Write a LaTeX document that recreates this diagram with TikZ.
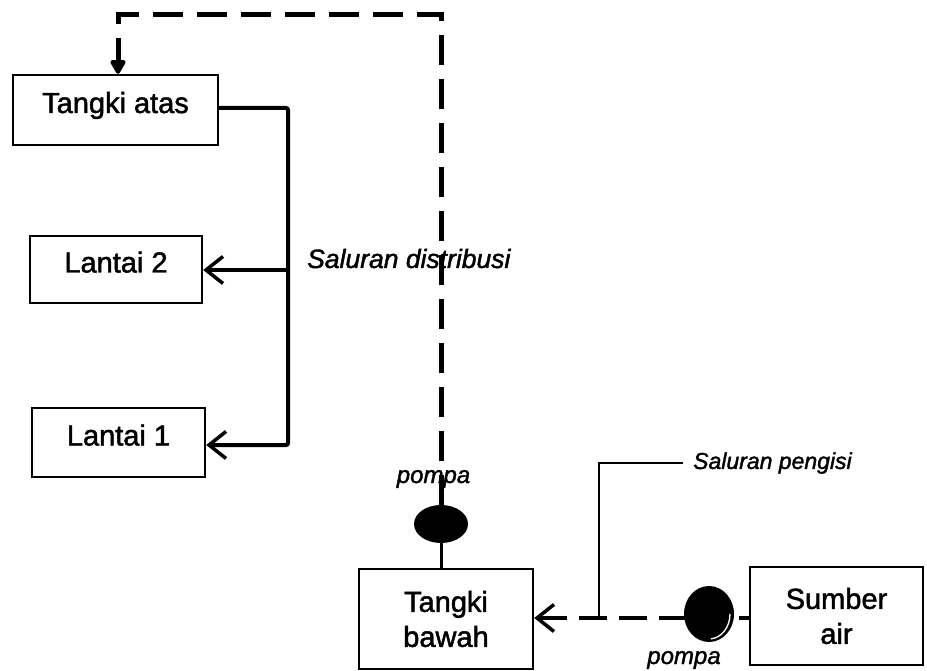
\documentclass[tikz,border=0pt]{standalone}
\usepackage{fontspec}
\setmainfont{Liberation Sans}[FakeBold=1.6]
\usetikzlibrary{arrows.meta,shapes.geometric,calc}
\begin{document}
\begin{tikzpicture}[x=1pt,y=-1pt,
  box/.style={draw,line width=2.4pt,inner sep=0pt,align=center,
    font=\fontsize{29}{35}\selectfont},
  onebox/.style={box,text height=20pt,text depth=14pt},
  lbl/.style={inner sep=0pt,font=\fontsize{24}{30}\selectfont\itshape},
  pipe/.style={line width=4pt},
  dashpipe/.style={line width=5pt,dash pattern=on 30pt off 14pt},
  barb/.style={-{Straight Barb[length=17pt,width=27pt,line width=3.5pt]}},
  pump/.style={ellipse,fill=black,inner sep=0pt},
  leader/.style={line width=2.2pt}
]
\useasboundingbox (0,0) rectangle (927,671);

% tanks and floors
\node[onebox,minimum width=205pt,minimum height=70pt] (ta) at (115.5,110) {Tangki atas};
\node[onebox,minimum width=172pt,minimum height=67pt] (l2) at (116,269.5) {Lantai 2};
\node[onebox,minimum width=173pt,minimum height=69pt] (l1) at (118.5,442.5) {Lantai 1};
\node[box,minimum width=174pt,minimum height=100pt] (tb) at (446,619) {Tangki\\bawah};
\node[box,minimum width=173pt,minimum height=98pt] (sa) at (836.5,616) {Sumber\\air};

% distribution piping
\coordinate (j1) at (288,108);
\coordinate (j2) at (288,270);
\coordinate (j3) at (288,445);
\draw[pipe,barb,rounded corners=2pt] (ta.east |- j1) -- (j1) -- (j3) -- (l1.east |- j3);
\draw[pipe,barb] (j2) -- (l2.east |- j2);
\node[lbl,font=\fontsize{26.5}{30}\selectfont\itshape,anchor=base west] (sd) at (307,268) {Saluran distribusi};

% upper pump and rising main
\node[pump,minimum width=54pt,minimum height=38pt] (p1) at (441,524) {};
\draw[line width=3pt] (p1.south) -- (p1.south |- tb.north);
\coordinate (c1) at (441,15);
\coordinate (c2) at (118,15);
\draw[dashpipe,-{Triangle[length=16pt,width=17pt,round]}] (p1.north) -- (c1) -- (c2) -- (c2 |- ta.north);
\node[lbl,anchor=base] (pl1) at (433.5,483) {pompa};

% filling line from the source
\coordinate (f1) at (750,618);
\draw[line width=4.5pt,dash pattern=on 28pt off 12pt,{Straight Barb[length=17pt,width=27pt,line width=3.5pt]}-] (tb.east |- f1) -- (sa.west |- f1);
\node[pump,minimum width=50pt,minimum height=56pt] (p2) at (709,614) {};
\draw[white,line width=1.3pt] ([xshift=21pt]p2.center) arc[start angle=0,end angle=85,x radius=21,y radius=25];
\node[lbl,anchor=base] (pl2) at (684,664) {pompa};

% label of the filling line
\coordinate (t1) at (599,618);
\node[lbl,font=\fontsize{23}{28}\selectfont\itshape,anchor=west,inner xsep=10pt] (sp) at (683,463) {Saluran pengisi};
\draw[leader] (t1) |- (sp.west);
\end{tikzpicture}
\end{document}
